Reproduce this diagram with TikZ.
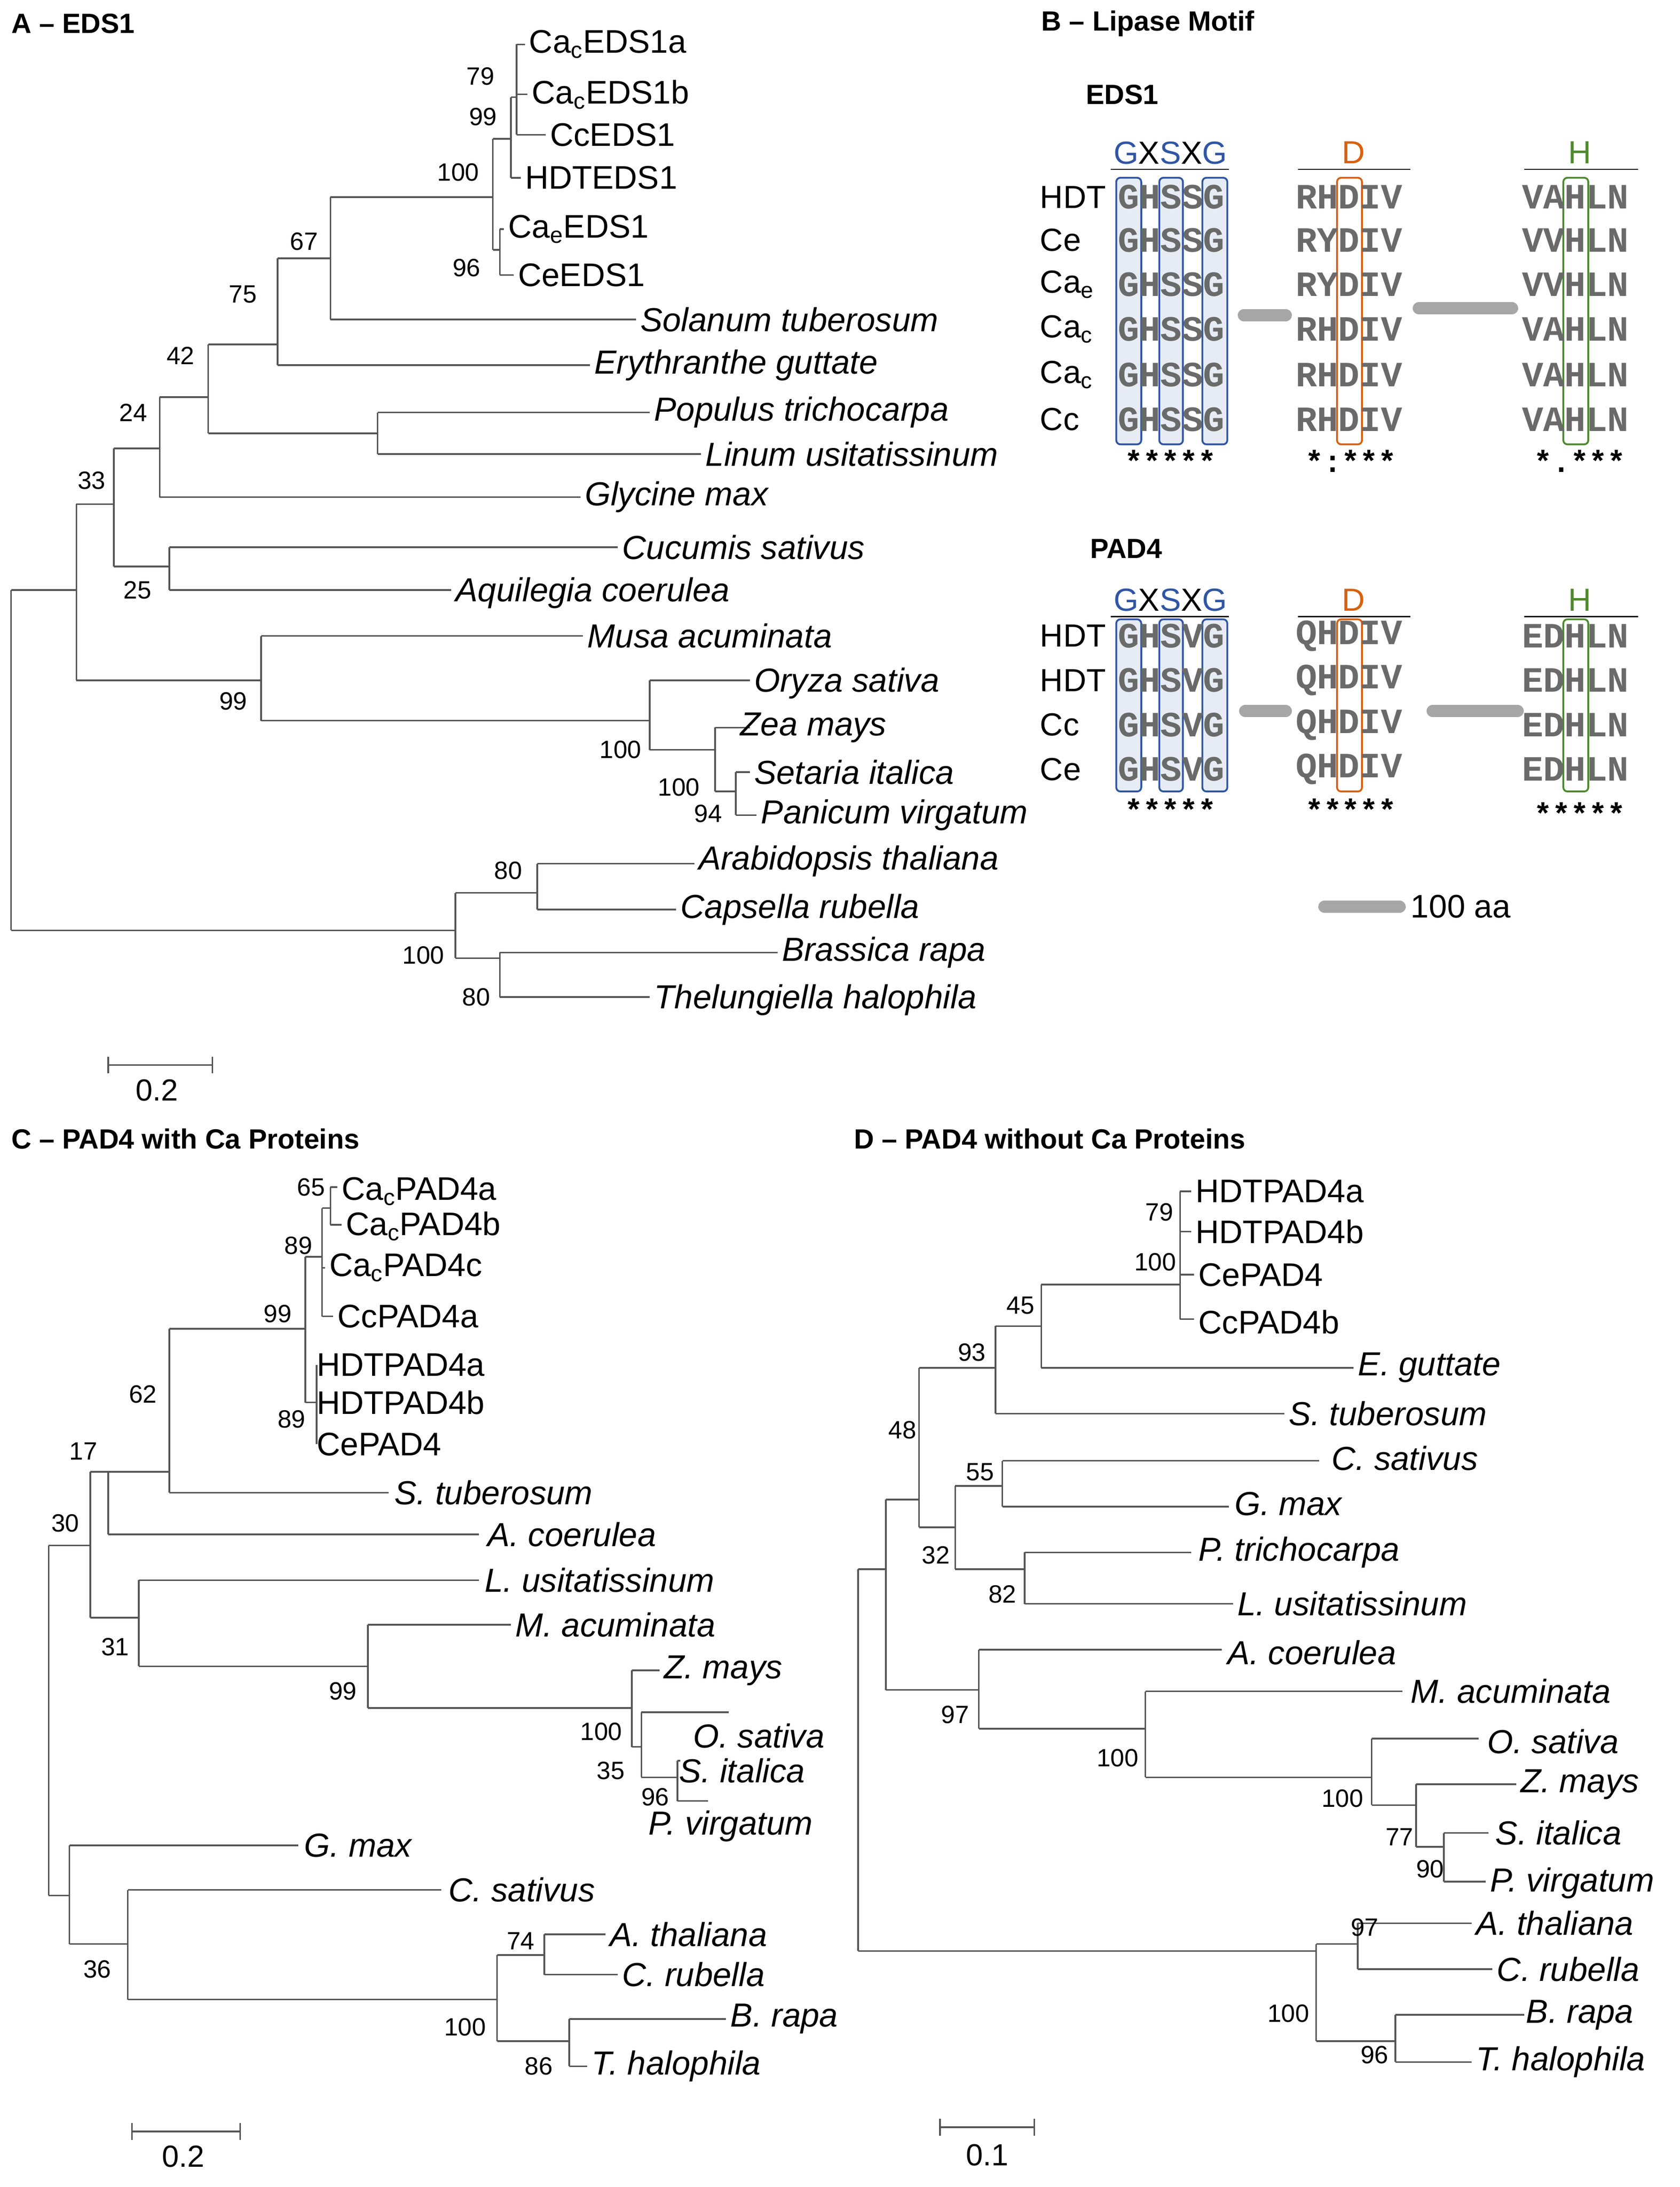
\documentclass[tikz,border=0pt]{standalone}
\usepackage{fontspec}
\setmainfont{Liberation Sans}
\newfontfamily\mono{Liberation Mono}
\definecolor{tree}{HTML}{555555}
\definecolor{mblue}{HTML}{2F55A4}
\definecolor{morange}{HTML}{D9600F}
\definecolor{mgreen}{HTML}{4E8A2E}
\definecolor{sq}{HTML}{6A6A6A}
\begin{document}
\begin{tikzpicture}[x=1pt,y=-1pt,
  br/.style={draw=tree,line width=1.2pt},
  lf/.style={anchor=west,inner sep=3pt,font=\fontsize{24}{28}\selectfont\itshape},
  lr/.style={anchor=west,inner sep=3pt,font=\fontsize{23.5}{28}\selectfont},
  bs/.style={inner sep=0pt,font=\fontsize{18}{21}\selectfont},
  hd/.style={anchor=west,inner sep=0pt,font=\fontsize{20}{23}\selectfont\bfseries},
  sqn/.style={anchor=west,inner sep=0pt,font=\fontsize{25.6}{28}\selectfont\mono\bfseries,text=sq},
  rl/.style={anchor=west,inner sep=0pt,font=\fontsize{23}{26}\selectfont},
  st/.style={inner sep=0pt,font=\fontsize{22}{24}\selectfont\mono\bfseries},
  bar/.style={draw=gray!70,line width=9pt,line cap=round}]
\useasboundingbox (0,0) rectangle (1210,1575);
% ================= A ==================
\node[hd] (hA) at (8,17) {A -- EDS1};
\draw[br] (8,425)--(8,670) (8,425)--(55,425) (8,670)--(328,670);
\draw[br] (55,363)--(55,490) (55,490)--(188,490);
\draw[br] (188,458)--(188,519) (188,458)--(420,458) (188,519)--(468,519);
\draw[br] (468,490)--(468,540) (468,490)--(540,490) (468,540)--(515,540);
\draw[br] (515,524)--(515,570) (515,524)--(540,524) (515,570)--(530,570);
\draw[br] (530,556)--(530,587) (530,556)--(540,556) (530,587)--(545,587);
\draw[br] (55,363)--(82,363) (82,323)--(82,408) (82,408)--(122,408);
\draw[br] (122,394)--(122,425) (122,394)--(445,394) (122,425)--(325,425);
\draw[br] (82,323)--(115,323) (115,286)--(115,358) (115,358)--(418,358) (115,286)--(150,286);
\draw[br] (150,248)--(150,312) (150,312)--(272,312) (272,297)--(272,327) (272,297)--(468,297) (272,327)--(505,327);
\draw[br] (150,248)--(200,248) (200,186)--(200,263) (200,263)--(425,263) (200,186)--(238,186);
\draw[br] (238,142)--(238,230) (238,230)--(458,230) (238,142)--(355,142);
\draw[br] (355,100)--(355,180) (355,100)--(368,100) (355,180)--(360,180);
\draw[br] (368,70)--(368,128) (368,128)--(375,128) (368,70)--(372,70);
\draw[br] (372,32)--(372,97) (372,32)--(378,32) (372,68)--(380,68) (372,97)--(393,97);
\draw[br] (360,165)--(360,198) (360,165)--(363,165) (360,198)--(370,198);
\node[lr] (a1) at (378,32) {Ca\textsubscript{c}EDS1a};
\node[lr] (a2) at (380,68) {Ca\textsubscript{c}EDS1b};
\node[lr] (a3) at (393,97) {CcEDS1};
\node[lr] (a4) at (375,128) {HDTEDS1};
\node[lr] (a5) at (363,165) {Ca\textsubscript{e}EDS1};
\node[lr] (a6) at (370,198) {CeEDS1};
\node[lf] (a7) at (458,230) {Solanum tuberosum};
\node[lf] (a8) at (425,263) {Erythranthe guttate};
\node[lf] (a9) at (468,297) {Populus trichocarpa};
\node[lf] (a10) at (505,327) {Linum usitatissinum};
\node[lf] (a11) at (418,358) {Glycine max};
\node[lf] (a12) at (445,394) {Cucumis sativus};
\node[lf] (a13) at (325,427) {Aquilegia coerulea};
\node[lf] (a14) at (420,458) {Musa acuminata};
\node[lf] (a15) at (540,492) {Oryza sativa};
\node[lf] (a16) at (530,524) {Zea mays};
\node[lf] (a17) at (540,556) {Setaria italica};
\node[lf] (a18) at (545,587) {Panicum virgatum};
\draw[br] (328,643)--(328,690) (328,643)--(387,643) (387,622)--(387,655) (387,622)--(500,622) (387,655)--(487,655);
\draw[br] (328,690)--(360,690) (360,686)--(360,718) (360,686)--(560,686) (360,718)--(468,718);
\node[lf] (a19) at (500,620) {Arabidopsis thaliana};
\node[lf] (a20) at (487,655) {Capsella rubella};
\node[lf] (a21) at (560,686) {Brassica rapa};
\node[lf] (a22) at (468,720) {Thelungiella halophila};
\foreach \t/\x/\y in {79/346/55,99/348/84,100/330/124,96/336/193,67/219/174,75/175/212,42/130/256,24/96/297,33/66/346,25/99/425,99/168/505,100/447/540,100/489/567,94/510/586,80/366/627,100/305/688,80/343/718}
  \node[bs] at (\x,\y) {\t};
\draw[br] (78,767)--(153,767) (78,761)--(78,773) (153,761)--(153,773);
\node[bs,font=\fontsize{22}{24}\selectfont] (sA) at (113,785) {0.2};
% ================= B ==================
\node[hd] (hB) at (750,17) {B -- Lipase Motif};
\node[hd] (e1) at (782,68) {EDS1};
\node[hd] (p1) at (785,395) {PAD4};
\foreach \a/\b in {804/822,835/852,866/884}
  \draw[mblue,fill=mblue!12,line width=1.3pt,rounded corners=3pt] (\a,128) rectangle (\b,320);
\draw[morange,line width=1.3pt,rounded corners=3pt] (963,128) rectangle (981,320);
\draw[mgreen,line width=1.3pt,rounded corners=3pt] (1126,128) rectangle (1144,320);
\foreach \a/\b in {804/822,835/852,866/884}
  \draw[mblue,fill=mblue!12,line width=1.3pt,rounded corners=3pt] (\a,446) rectangle (\b,570);
\draw[morange,line width=1.3pt,rounded corners=3pt] (963,446) rectangle (981,570);
\draw[mgreen,line width=1.3pt,rounded corners=3pt] (1126,446) rectangle (1144,570);
\foreach \yy/\c in {110/e,432/p}{
 \node[inner sep=0pt,font=\fontsize{23}{24}\selectfont] (\c g) at (843,\yy) {\textcolor{mblue}{G}X\textcolor{mblue}{S}X\textcolor{mblue}{G}};
 \node[inner sep=0pt,font=\fontsize{23}{24}\selectfont,text=morange] (\c d) at (975,\yy) {D};
 \node[inner sep=0pt,font=\fontsize{23}{24}\selectfont,text=mgreen] (\c h) at (1138,\yy) {H};
 \draw[line width=0.9pt] (800,\yy+12)--(885,\yy+12) (935,\yy+12)--(1016,\yy+12) (1098,\yy+12)--(1180,\yy+12);
}
\foreach \y/\l/\s/\d/\h in {142/HDT/GHSSG/RHDIV/VAHLN,173/Ce/GHSSG/RYDIV/VVHLN,205/Ca\textsubscript{e}/GHSSG/RYDIV/VVHLN,237/Ca\textsubscript{c}/GHSSG/RHDIV/VAHLN,270/Ca\textsubscript{c}/GHSSG/RHDIV/VAHLN,302/Cc/GHSSG/RHDIV/VAHLN}{
 \node[rl] at (749,\y) {\l};
 \node[sqn] at (805,\y) {\s};
 \node[sqn] at (933,\y) {\d};
 \node[sqn] at (1096,\y) {\h};
}
\node[st] at (843,332) {*****};
\node[st] at (973,332) {*:***};
\node[st] at (1138,332) {*.***};
\draw[bar] (896,227)--(926,227) (1022,222)--(1089,222);
\foreach \y/\l in {458/HDT,490/HDT,522/Cc,554/Ce}{
 \node[rl] at (749,\y) {\l};
 \node[sqn] at (805,\y) {GHSVG};
 \node[sqn] at (933,\y) {QHDIV};
 \node[sqn] at (1096,\y) {EDHLN};
}
\node[st] at (843,583) {*****};
\node[st] at (973,583) {*****};
\node[st] at (1138,586) {*****};
\draw[bar] (897,512)--(926,512) (1032,512)--(1093,512);
\draw[bar] (954,653)--(1008,653);
\node[lr] (sB) at (1013,653) {100 aa};
% ================= C ==================
\node[hd] (hC) at (8,820) {C -- PAD4 with Ca Proteins};
\draw[br] (35,1113)--(35,1365) (35,1113)--(65,1113) (65,1060)--(65,1165);
\draw[br] (65,1060)--(78,1060) (78,1060)--(78,1105) (78,1105)--(345,1105) (78,1060)--(122,1060);
\draw[br] (122,957)--(122,1075) (122,1075)--(280,1075) (122,957)--(220,957);
\draw[br] (220,905)--(220,1010) (220,905)--(232,905) (220,1010)--(228,1010);
\draw[br] (232,870)--(232,948) (232,870)--(238,870) (238,855)--(238,882) (238,855)--(243,855) (238,882)--(246,882);
\draw[br] (232,913)--(234,913) (232,948)--(240,948);
\draw[br] (228,983)--(228,1040);
\node[lr] (c1) at (243,858) {Ca\textsubscript{c}PAD4a};
\node[lr] (c2) at (246,883) {Ca\textsubscript{c}PAD4b};
\node[lr] (c3) at (234,913) {Ca\textsubscript{c}PAD4c};
\node[lr] (c4) at (240,948) {CcPAD4a};
\node[lr] (c5) at (225,983) {HDTPAD4a};
\node[lr] (c6) at (225,1010) {HDTPAD4b};
\node[lr] (c7) at (225,1040) {CePAD4};
\node[lf] (c8) at (281,1075) {S. tuberosum};
\node[lf] (c9) at (348,1105) {A. coerulea};
\draw[br] (65,1165)--(100,1165) (100,1138)--(100,1200) (100,1138)--(345,1138) (100,1200)--(265,1200);
\draw[br] (265,1170)--(265,1230) (265,1170)--(368,1170) (265,1230)--(455,1230);
\draw[br] (455,1203)--(455,1258) (455,1203)--(475,1203) (455,1258)--(462,1258);
\draw[br] (462,1233)--(462,1280) (462,1233)--(525,1233) (462,1280)--(488,1280);
\draw[br] (488,1268)--(488,1297) (488,1268)--(490,1268) (488,1297)--(510,1297);
\node[lf] (c10) at (346,1138) {L. usitatissinum};
\node[lf] (c11) at (368,1170) {M. acuminata};
\node[lf] (c12) at (475,1203) {Z. mays};
\node[lf] (c13) at (496,1250) {O. sativa};
\node[lf] (c14) at (486,1275) {S. italica};
\node[lf] (c15) at (464,1315) {P. virgatum};
\draw[br] (35,1365)--(50,1365) (50,1329)--(50,1400) (50,1329)--(215,1329) (50,1400)--(92,1400);
\draw[br] (92,1361)--(92,1440) (92,1361)--(318,1361) (92,1440)--(358,1440);
\draw[br] (358,1408)--(358,1470) (358,1408)--(392,1408) (392,1393)--(392,1422) (392,1393)--(436,1393) (392,1422)--(445,1422);
\draw[br] (358,1470)--(410,1470) (410,1454)--(410,1488) (410,1454)--(523,1454) (410,1488)--(423,1488);
\node[lf] (c16) at (216,1329) {G. max};
\node[lf] (c17) at (320,1361) {C. sativus};
\node[lf] (c18) at (436,1393) {A. thaliana};
\node[lf] (c19) at (445,1422) {C. rubella};
\node[lf] (c20) at (523,1454) {B. rapa};
\node[lf] (c21) at (423,1488) {T. halophila};
\foreach \t/\x/\y in {65/224/855,89/215/897,99/200/946,89/210/1022,62/103/1004,17/60/1045,30/47/1097,31/83/1186,99/247/1218,100/433/1247,35/440/1275,96/472/1294,36/70/1418,74/375/1398,100/335/1460,86/388/1488}
  \node[bs] at (\x,\y) {\t};
\draw[br] (95,1535)--(173,1535) (95,1529)--(95,1541) (173,1529)--(173,1541);
\node[bs,font=\fontsize{22}{24}\selectfont] (sC) at (132,1553) {0.2};
% ================= D ==================
\node[hd] (hD) at (615,820) {D -- PAD4 without Ca Proteins};
\draw[br] (618,1130)--(618,1405) (618,1130)--(638,1130) (638,1080)--(638,1217) (638,1080)--(662,1080);
\draw[br] (662,985)--(662,1100) (662,985)--(717,985) (717,955)--(717,1018) (717,955)--(750,955);
\draw[br] (750,925)--(750,985) (750,925)--(850,925) (750,985)--(975,985) (717,1018)--(925,1018);
\draw[br] (850,858)--(850,950) (850,858)--(858,858) (850,887)--(858,887) (850,918)--(860,918) (850,950)--(860,950);
\node[lr] (d1) at (858,858) {HDTPAD4a};
\node[lr] (d2) at (858,887) {HDTPAD4b};
\node[lr] (d3) at (860,918) {CePAD4};
\node[lr] (d4) at (860,952) {CcPAD4b};
\node[lf] (d5) at (975,985) {E. guttate};
\node[lf] (d6) at (925,1018) {S. tuberosum};
\draw[br] (662,1100)--(688,1100) (688,1070)--(688,1130) (688,1070)--(722,1070) (722,1052)--(722,1085) (722,1052)--(950,1052) (722,1085)--(885,1085);
\draw[br] (688,1130)--(738,1130) (738,1118)--(738,1155) (738,1118)--(858,1118) (738,1155)--(888,1155);
\node[lf] (d7) at (956,1050) {C. sativus};
\node[lf] (d8) at (886,1083) {G. max};
\node[lf] (d9) at (860,1118) {P. trichocarpa};
\node[lf] (d10) at (888,1155) {L. usitatissinum};
\draw[br] (638,1217)--(705,1217) (705,1188)--(705,1245) (705,1188)--(880,1188) (705,1245)--(825,1245);
\draw[br] (825,1218)--(825,1280) (825,1218)--(1010,1218) (825,1280)--(988,1280);
\draw[br] (988,1252)--(988,1300) (988,1252)--(1065,1252) (988,1300)--(1020,1300);
\draw[br] (1020,1285)--(1020,1330) (1020,1285)--(1092,1285) (1020,1330)--(1040,1330);
\draw[br] (1040,1320)--(1040,1355) (1040,1320)--(1072,1320) (1040,1355)--(1070,1355);
\node[lf] (d11) at (881,1190) {A. coerulea};
\node[lf] (d12) at (1013,1218) {M. acuminata};
\node[lf] (d13) at (1068,1254) {O. sativa};
\node[lf] (d14) at (1092,1285) {Z. mays};
\node[lf] (d15) at (1074,1320) {S. italica};
\node[lf] (d16) at (1070,1356) {P. virgatum};
\draw[br] (618,1405)--(948,1405) (948,1400)--(948,1470) (948,1400)--(978,1400) (978,1385)--(978,1418) (978,1385)--(1060,1385) (978,1418)--(1075,1418);
\draw[br] (948,1470)--(1005,1470) (1005,1451)--(1005,1485) (1005,1451)--(1098,1451) (1005,1485)--(1060,1485);
\node[lf] (d17) at (1060,1385) {A. thaliana};
\node[lf] (d18) at (1075,1418) {C. rubella};
\node[lf] (d19) at (1096,1451) {B. rapa};
\node[lf] (d20) at (1060,1485) {T. halophila};
\foreach \t/\x/\y in {79/835/873,100/832/909,45/735/940,93/700/974,48/650/1030,55/706/1060,32/674/1120,82/722/1148,97/688/1235,100/805/1266,100/967/1295,77/1008/1323,90/1030/1346,97/983/1388,100/928/1450,96/990/1480}
  \node[bs] at (\x,\y) {\t};
\draw[br] (677,1532)--(745,1532) (677,1526)--(677,1538) (745,1526)--(745,1538);
\node[bs,font=\fontsize{22}{24}\selectfont] (sD) at (711,1552) {0.1};
\end{tikzpicture}
\end{document}
